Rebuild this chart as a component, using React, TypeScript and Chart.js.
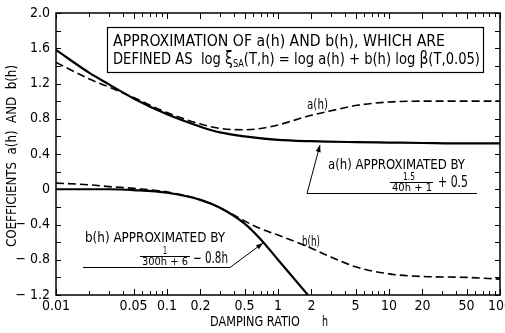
import React, { useEffect, useRef } from "react";
import { Chart, registerables } from "chart.js";

Chart.register(...registerables);

const FONT = '"Liberation Sans Narrow", "DejaVu Sans Condensed", "Noto Sans", sans-serif';

// ---- data ----
const hApproxA = [0.01, 0.02, 0.03, 0.05, 0.1, 0.2, 0.3, 0.5, 1, 2, 5, 10, 20, 50, 100];
const aApprox = [1.58, 1.32, 1.19, 1.03, 0.85, 0.71, 0.645, 0.6, 0.56, 0.545, 0.535, 0.53, 0.525, 0.52, 0.52];

const hActualA = [0.01, 0.02, 0.03, 0.05, 0.1, 0.2, 0.3, 0.5, 0.7, 1, 2, 3, 5, 10, 20, 50, 100];
const aActual = [1.44, 1.25, 1.16, 1.04, 0.87, 0.74, 0.69, 0.675, 0.69, 0.73, 0.84, 0.89, 0.95, 0.99, 1.0, 1.0, 1.0];

const hApproxB = [0.01, 0.02, 0.03, 0.05, 0.1, 0.2, 0.3, 0.5, 0.7, 1, 1.5, 1.86];
const bApprox = [0.0, 0.0, 0.0, -0.01, -0.04, -0.12, -0.21, -0.39, -0.57, -0.8, -1.06, -1.2];

const hActualB = [0.01, 0.02, 0.03, 0.05, 0.1, 0.2, 0.3, 0.5, 0.7, 1, 2, 3, 5, 10, 20, 50, 100];
const bActual = [0.07, 0.05, 0.03, 0.01, -0.03, -0.12, -0.21, -0.36, -0.45, -0.52, -0.67, -0.77, -0.88, -0.96, -0.99, -1.0, -1.02];

// ---- tick labels ----
const xLabelValues = [0.01, 0.05, 0.1, 0.2, 0.5, 1, 2, 5, 10, 20, 50, 100];
const xLabelTexts = ["0.01", "0.05", "0.1", "0.2", "0.5", "1", "2", "5", "10", "20", "50", "100"];
const xTickValues = [
  0.01, 0.02, 0.03, 0.04, 0.05, 0.06, 0.07, 0.08, 0.09,
  0.1, 0.2, 0.3, 0.4, 0.5, 0.6, 0.7, 0.8, 0.9,
  1, 2, 3, 4, 5, 6, 7, 8, 9,
  10, 20, 30, 40, 50, 60, 70, 80, 90, 100,
];
const yLabelValues = [2.0, 1.6, 1.2, 0.8, 0.4, 0, -0.4, -0.8, -1.2];
const yLabelTexts = ["2.0", "1.6", "1.2", "0.8", "0.4", "0", "\u2212 0.4", "\u2212 0.8", "\u2212 1.2"];
const yTickValues = [2.0, 1.8, 1.6, 1.4, 1.2, 1.0, 0.8, 0.6, 0.4, 0.2, 0, -0.2, -0.4, -0.6, -0.8, -1.0, -1.2];

const pts = (xs: number[], ys: number[]) => xs.map((x, i) => ({ x, y: ys[i] }));

function fitText(ctx: CanvasRenderingContext2D, s: string, x0: number, x1: number, y: number, size: number) {
  ctx.save();
  ctx.font = `${size}px ${FONT}`;
  ctx.textAlign = "left";
  ctx.textBaseline = "middle";
  const w = ctx.measureText(s).width;
  ctx.translate(x0, y);
  ctx.scale((x1 - x0) / w, 1);
  ctx.fillText(s, 0, 0);
  ctx.restore();
}

type Piece = { t: string; s: number; dy?: number };
function richText(ctx: CanvasRenderingContext2D, pieces: Piece[], x0: number, x1: number, y: number) {
  ctx.save();
  ctx.textAlign = "left";
  ctx.textBaseline = "middle";
  let total = 0;
  const ws = pieces.map((p) => {
    ctx.font = `${p.s}px ${FONT}`;
    const w = ctx.measureText(p.t).width;
    total += w;
    return w;
  });
  ctx.translate(x0, y);
  ctx.scale((x1 - x0) / total, 1);
  let cx = 0;
  pieces.forEach((p, i) => {
    ctx.font = `${p.s}px ${FONT}`;
    ctx.fillText(p.t, cx, p.dy || 0);
    cx += ws[i];
  });
  ctx.restore();
}

function leader(ctx: CanvasRenderingContext2D, path: number[][]) {
  ctx.save();
  ctx.lineWidth = 1;
  ctx.strokeStyle = "#000";
  ctx.beginPath();
  ctx.moveTo(path[0][0], path[0][1]);
  for (let i = 1; i < path.length; i++) ctx.lineTo(path[i][0], path[i][1]);
  ctx.stroke();
  const [ax, ay] = path[path.length - 1];
  const [bx, by] = path[path.length - 2];
  const ang = Math.atan2(ay - by, ax - bx);
  ctx.fillStyle = "#000";
  ctx.beginPath();
  ctx.moveTo(ax, ay);
  ctx.lineTo(ax - 7 * Math.cos(ang) + 2.5 * Math.sin(ang), ay - 7 * Math.sin(ang) - 2.5 * Math.cos(ang));
  ctx.lineTo(ax - 7 * Math.cos(ang) - 2.5 * Math.sin(ang), ay - 7 * Math.sin(ang) + 2.5 * Math.cos(ang));
  ctx.closePath();
  ctx.fill();
  ctx.restore();
}

const decorPlugin = {
  id: "decor",
  afterDraw(chart: any) {
    const ctx: CanvasRenderingContext2D = chart.ctx;
    const { left, right, top, bottom } = chart.chartArea;
    const xs = chart.scales.x;
    const ys = chart.scales.y;
    ctx.save();
    ctx.strokeStyle = "#000";
    ctx.fillStyle = "#000";
    ctx.lineWidth = 1.5;
    ctx.strokeRect(left, top, right - left, bottom - top);

    ctx.lineWidth = 1;
    ctx.beginPath();
    xTickValues.forEach((v) => {
      const px = Math.round(xs.getPixelForValue(v)) + 0.5;
      const len = xLabelValues.includes(v) ? 6 : 4;
      ctx.moveTo(px, bottom);
      ctx.lineTo(px, bottom - len);
      ctx.moveTo(px, top);
      ctx.lineTo(px, top + len);
    });
    yTickValues.forEach((v) => {
      const py = Math.round(ys.getPixelForValue(v)) + 0.5;
      const len = 5;
      ctx.moveTo(left, py);
      ctx.lineTo(left + len, py);
      ctx.moveTo(right, py);
      ctx.lineTo(right - len, py);
    });
    ctx.stroke();

    // title box
    ctx.lineWidth = 1.2;
    ctx.strokeRect(107.5, 27.5, 376, 45);
    fitText(ctx, "APPROXIMATION OF a(h) AND b(h), WHICH ARE", 113, 445, 42, 16);
    richText(
      ctx,
      [
        { t: "DEFINED AS  log ", s: 16 },
        { t: "\u03BE", s: 17 },
        { t: "SA", s: 10, dy: 4 },
        { t: "(T,h) = log a(h) + b(h) log ", s: 16 },
        { t: "\u03B2", s: 17 },
        { t: "(T,0.05)", s: 16 },
      ],
      113,
      480,
      60
    );

    // curve labels
    fitText(ctx, "a(h)", 307, 328, 105, 14);
    fitText(ctx, "b(h)", 302, 320, 242, 14);

    // a(h) approximation note
    fitText(ctx, "a(h) APPROXIMATED BY", 328, 465, 165, 14);
    fitText(ctx, "1.5", 403, 415, 177, 10);
    ctx.lineWidth = 1;
    ctx.beginPath();
    ctx.moveTo(390, 182.5);
    ctx.lineTo(433, 182.5);
    ctx.stroke();
    fitText(ctx, "40h + 1", 392, 432, 188.5, 11);
    fitText(ctx, "+ 0.5", 438, 468, 183, 15);
    leader(ctx, [[477, 193.5], [307, 193.5], [320, 145]]);

    // b(h) approximation note
    fitText(ctx, "b(h) APPROXIMATED BY", 85, 225, 238, 14);
    fitText(ctx, "1", 163, 167, 251, 10);
    ctx.beginPath();
    ctx.moveTo(140, 256.5);
    ctx.lineTo(190, 256.5);
    ctx.stroke();
    fitText(ctx, "300h + 6", 142, 188, 262.5, 11);
    fitText(ctx, "\u2212 0.8h", 193, 228, 259, 15);
    leader(ctx, [[83, 267.5], [230, 267.5], [263, 243]]);

    // axis titles
    fitText(ctx, "DAMPING RATIO", 210, 300, 322, 14);
    fitText(ctx, "h", 322, 328, 322, 14);
    ctx.save();
    ctx.translate(12, 247);
    ctx.rotate(-Math.PI / 2);
    fitText(ctx, "COEFFICIENTS  a(h)  AND  b(h)", 0, 182, 0, 14);
    ctx.restore();

    ctx.restore();
  },
};

export default function App() {
  const ref = useRef<HTMLCanvasElement | null>(null);
  useEffect(() => {
    if (!ref.current) return;
    const chart = new Chart(ref.current, {
      type: "line",
      data: {
        datasets: [
          {
            label: "a(h) approx",
            data: pts(hApproxA, aApprox),
            borderColor: "#000",
            borderWidth: 2.2,
            pointRadius: 0,
            cubicInterpolationMode: "monotone",
            fill: false,
          },
          {
            label: "a(h)",
            data: pts(hActualA, aActual),
            borderColor: "#000",
            borderWidth: 1.6,
            borderDash: [8, 4],
            pointRadius: 0,
            cubicInterpolationMode: "monotone",
            fill: false,
          },
          {
            label: "b(h) approx",
            data: pts(hApproxB, bApprox),
            borderColor: "#000",
            borderWidth: 2.2,
            pointRadius: 0,
            cubicInterpolationMode: "monotone",
            fill: false,
          },
          {
            label: "b(h)",
            data: pts(hActualB, bActual),
            borderColor: "#000",
            borderWidth: 1.6,
            borderDash: [8, 4],
            pointRadius: 0,
            cubicInterpolationMode: "monotone",
            fill: false,
          },
        ],
      },
      options: {
        responsive: false,
        animation: false,
        events: [],
        layout: { padding: { top: 13, right: 5, left: 0, bottom: 0 } },
        plugins: { legend: { display: false }, tooltip: { enabled: false }, title: { display: false } },
        scales: {
          x: {
            type: "logarithmic",
            min: 0.01,
            max: 100,
            grid: { display: false, drawTicks: false },
            border: { display: false },
            afterBuildTicks: (s: any) => {
              s.ticks = xLabelValues.map((v) => ({ value: v }));
            },
            afterFit: (s: any) => {
              s.height = 38;
              s.paddingLeft = 0;
              s.paddingRight = 0;
            },
            ticks: {
              autoSkip: false,
              maxRotation: 0,
              minRotation: 0,
              padding: 3,
              color: "#000",
              font: { family: FONT, size: 14 },
              callback: (v: any) => {
                const i = xLabelValues.findIndex((x) => Math.abs(x - Number(v)) < 1e-9);
                return i >= 0 ? xLabelTexts[i] : "";
              },
            },
          },
          y: {
            type: "linear",
            min: -1.2,
            max: 2.0,
            grid: { display: false, drawTicks: false },
            border: { display: false },
            afterBuildTicks: (s: any) => {
              s.ticks = yLabelValues.map((v) => ({ value: v }));
            },
            afterFit: (s: any) => {
              s.width = 56;
              s.paddingTop = 0;
              s.paddingBottom = 0;
            },
            ticks: {
              padding: 6,
              color: "#000",
              font: { family: FONT, size: 14 },
              callback: (v: any) => {
                const i = yLabelValues.findIndex((y) => Math.abs(y - Number(v)) < 1e-9);
                return i >= 0 ? yLabelTexts[i] : "";
              },
            },
          },
        },
      },
      plugins: [decorPlugin],
    } as any);
    return () => chart.destroy();
  }, []);

  return (
    <div style={{ position: "absolute", left: 0, top: 0, width: 505, height: 333, background: "#fff" }}>
      <canvas ref={ref} width={505} height={333} style={{ display: "block" }} />
    </div>
  );
}
